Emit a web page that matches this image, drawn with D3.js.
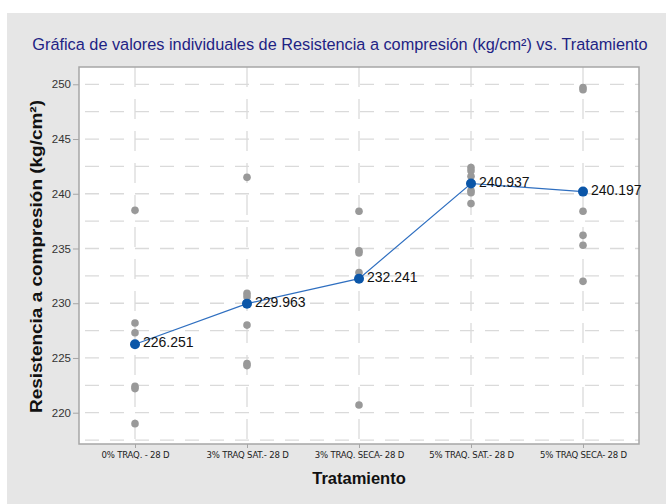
<!DOCTYPE html>
<html>
<head>
<meta charset="utf-8">
<script src="https://cdn.jsdelivr.net/npm/d3@7"></script>
<style>
  body { margin: 0; background: #fff; }
  svg { display: block; }
  .tick text { fill: #333; }
</style>
</head>
<body>
<div id="chart"></div>
<script>
// Individual values plot - compressive strength by treatment

const treatments = ["0% TRAQ. - 28 D", "3% TRAQ SAT.- 28 D", "3% TRAQ. SECA- 28 D", "5% TRAQ. SAT.- 28 D", "5% TRAQ SECA- 28 D"];

// individual specimens per treatment
const traq0 = [238.5, 228.2, 227.3, 222.4, 222.2, 219.0];
const traq3Sat = [241.5, 230.9, 230.6, 228.0, 224.5, 224.3];
const traq3Seca = [238.4, 234.8, 234.6, 232.8, 232.2, 220.7];
const traq5Sat = [242.4, 242.1, 241.6, 240.3, 240.1, 239.1];
const traq5Seca = [249.7, 249.5, 238.4, 236.2, 235.3, 232.0];
const specimens = [traq0, traq3Sat, traq3Seca, traq5Sat, traq5Seca];

// means shown as labels
const means = [226.251, 229.963, 232.241, 240.937, 240.197];

const yTicks = [220, 225, 230, 235, 240, 245, 250];
const yGrid = d3.range(217.5, 250.01, 2.5);

const W = 666, H = 504;
const plot = { left: 79, right: 639, top: 67, bottom: 444 };

const svg = d3.select("#chart").append("svg")
    .attr("width", W)
    .attr("height", H);

// outer gray panel
svg.append("rect")
    .attr("x", 7).attr("y", 13)
    .attr("width", W - 7).attr("height", H - 13)
    .attr("fill", "#e6e6e6");

const x = d3.scalePoint()
    .domain(treatments)
    .range([plot.left, plot.right])
    .padding(0.5);

const y = d3.scaleLinear()
    .domain([217.14, 251.58])
    .range([plot.bottom, plot.top]);

// plot area
svg.append("rect")
    .attr("x", plot.left).attr("y", plot.top)
    .attr("width", plot.right - plot.left)
    .attr("height", plot.bottom - plot.top)
    .attr("fill", "#fff");

// gridlines
svg.append("g").selectAll("line")
    .data(yGrid)
    .enter().append("line")
    .attr("x1", plot.left + 6).attr("x2", plot.right)
    .attr("y1", d => y(d)).attr("y2", d => y(d))
    .attr("stroke", "#dadada")
    .attr("stroke-width", 1.3)
    .attr("stroke-dasharray", "14,11");

svg.append("g").selectAll("line")
    .data(treatments)
    .enter().append("line")
    .attr("x1", d => x(d)).attr("x2", d => x(d))
    .attr("y1", plot.top).attr("y2", plot.bottom)
    .attr("stroke", "#dadada")
    .attr("stroke-width", 1.3)
    .attr("stroke-dasharray", "20,12");

// border
svg.append("rect")
    .attr("x", plot.left).attr("y", plot.top)
    .attr("width", plot.right - plot.left)
    .attr("height", plot.bottom - plot.top)
    .attr("fill", "none")
    .attr("stroke", "#a6a6a6")
    .attr("stroke-width", 1.5);

// axes
const yAxis = svg.append("g")
    .attr("transform", `translate(${plot.left},0)`)
    .call(d3.axisLeft(y).tickValues(yTicks).tickSize(6).tickPadding(2));
yAxis.select(".domain").remove();
yAxis.selectAll(".tick line").attr("stroke", "#a6a6a6");
yAxis.selectAll(".tick text")
    .style("font-family", "'Liberation Sans', Arial, sans-serif")
    .style("font-size", "11.5px");

const xAxis = svg.append("g")
    .attr("transform", `translate(0,${plot.bottom})`)
    .call(d3.axisBottom(x).tickSize(4).tickPadding(3));
xAxis.select(".domain").remove();
xAxis.selectAll(".tick line").attr("stroke", "#a6a6a6");
xAxis.selectAll(".tick text")
    .style("font-family", "'DejaVu Sans Condensed', sans-serif")
    .style("font-size", "9.5px")
    .style("letter-spacing", "-0.2px")
    .style("fill", "#222");

// individual points
specimens.forEach((vals, i) => {
    svg.append("g").selectAll("circle")
        .data(vals)
        .enter().append("circle")
        .attr("cx", x(treatments[i]))
        .attr("cy", d => y(d))
        .attr("r", 3.8)
        .attr("fill", "#999");
});

// mean line
const meanData = treatments.map((t, i) => ({ t, v: means[i] }));

svg.append("path")
    .datum(meanData)
    .attr("d", d3.line().x(d => x(d.t)).y(d => y(d.v)))
    .attr("fill", "none")
    .attr("stroke", "#2f6fc0")
    .attr("stroke-width", 1.2);

svg.append("g").selectAll("circle")
    .data(meanData)
    .enter().append("circle")
    .attr("cx", d => x(d.t))
    .attr("cy", d => y(d.v))
    .attr("r", 5)
    .attr("fill", "#0b56a8");

svg.append("g").selectAll("text")
    .data(meanData)
    .enter().append("text")
    .attr("x", d => x(d.t) + 8)
    .attr("y", d => y(d.v) + 3)
    .style("font-family", "'Liberation Sans', Arial, sans-serif")
    .style("font-size", "14px")
    .attr("fill", "#111")
    .text(d => d.v.toFixed(3));

// titles
svg.append("text")
    .attr("x", 340).attr("y", 50)
    .attr("text-anchor", "middle")
    .style("font-family", "'Liberation Sans', Arial, sans-serif")
    .style("font-size", "16.3px")
    .attr("fill", "#1e2384")
    .text("Gráfica de valores individuales de Resistencia a compresión (kg/cm²) vs. Tratamiento");

svg.append("text")
    .attr("x", (plot.left + plot.right) / 2).attr("y", 484)
    .attr("text-anchor", "middle")
    .style("font-family", "'Liberation Sans', Arial, sans-serif")
    .style("font-size", "16.5px")
    .style("font-weight", "bold")
    .attr("fill", "#111")
    .text("Tratamiento");

svg.append("text")
    .attr("transform", `translate(42,413) rotate(-90)`)
    .attr("textLength", 313)
    .attr("lengthAdjust", "spacingAndGlyphs")
    .style("font-family", "'Liberation Sans', Arial, sans-serif")
    .style("font-size", "16.5px")
    .style("font-weight", "bold")
    .attr("fill", "#111")
    .text("Resistencia a compresión (kg/cm²)");
</script>
</body>
</html>
